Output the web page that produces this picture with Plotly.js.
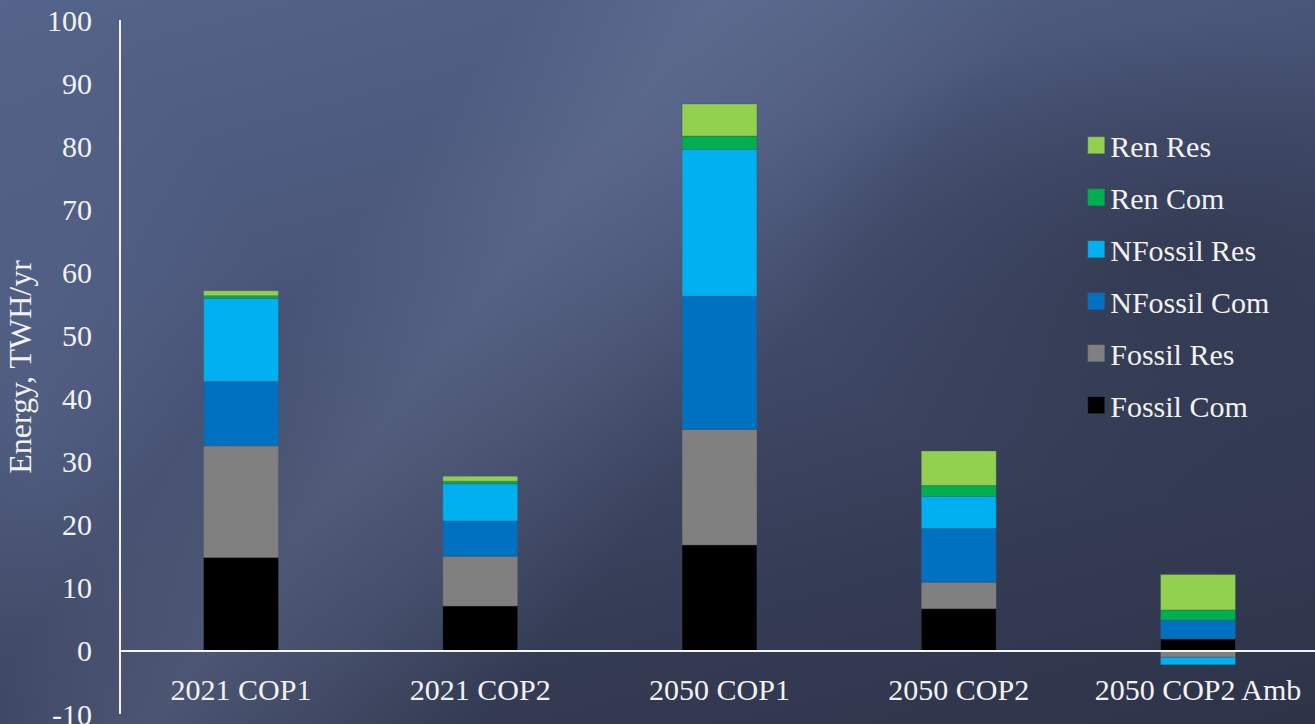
<!DOCTYPE html>
<html>
<head>
<meta charset="utf-8">
<script src="https://cdn.plot.ly/plotly-3.0.1.min.js"></script>
<style>
  html, body { margin: 0; padding: 0; width: 1315px; height: 724px; overflow: hidden; }
  body {
    background:
      linear-gradient(128deg, rgba(120,135,170,0) 28%, rgba(125,140,175,0.28) 38%, rgba(125,140,175,0.18) 46%, rgba(120,135,170,0) 56%),
      radial-gradient(ellipse 330px 520px at 40px 430px, rgba(100,115,155,0.35), rgba(100,115,155,0) 75%),
      radial-gradient(ellipse 520px 320px at 1180px 260px, rgba(38,43,62,0.45), rgba(38,43,62,0) 75%),
      linear-gradient(165deg, #55648a 0%, #4b587c 30%, #3e4764 55%, #343b54 75%, #2e3448 100%);
  }
  #chart { width: 1315px; height: 724px; }
</style>
</head>
<body>
<div id="chart"></div>
<script>
// Annual heating energy by scenario, TWh/yr
const categories = ['2021 COP1', '2021 COP2', '2050 COP1', '2050 COP2', '2050 COP2 Amb'];
const fossilCom  = [14.8, 7.1, 16.8, 6.7, 1.9];
const fossilRes  = [17.7, 7.9, 18.3, 4.2, -1.0];
const nfossilCom = [10.2, 5.6, 21.1, 8.5, 3.0];
const nfossilRes = [13.2, 5.9, 23.3, 5.1, -1.2];
const renCom     = [0.4, 0.4, 2.1, 1.7, 1.6];
const renRes     = [0.8, 0.8, 5.1, 5.5, 5.6];

const yTicks = [-10, 0, 10, 20, 30, 40, 50, 60, 70, 80, 90, 100];

const FONT = 'Liberation Serif, Times New Roman, serif';

// stacking order bottom to top; legend lists them top to bottom
const series = [
  { name: 'Fossil Com',  y: fossilCom,  color: '#000000', rank: 6 },
  { name: 'Fossil Res',  y: fossilRes,  color: '#808080', rank: 5 },
  { name: 'NFossil Com', y: nfossilCom, color: '#0070C0', rank: 4 },
  { name: 'NFossil Res', y: nfossilRes, color: '#00B0F0', rank: 3 },
  { name: 'Ren Com',     y: renCom,     color: '#00B050', rank: 2 },
  { name: 'Ren Res',     y: renRes,     color: '#92D050', rank: 1 }
];

const traces = series.map(s => ({
  type: 'bar',
  name: s.name,
  legendgroup: s.name,
  legendrank: s.rank,
  x: categories,
  y: s.y,
  marker: { color: s.color, line: { color: 'rgba(70,80,100,0.6)', width: 0.6 } },
  hoverinfo: 'x+y+name'
}));

const layout = {
  width: 1315,
  height: 724,
  paper_bgcolor: 'rgba(0,0,0,0)',
  plot_bgcolor: 'rgba(0,0,0,0)',
  margin: { l: 121, r: 0, t: 20, b: 10 },
  barmode: 'relative',
  bargap: 0.687,
  font: { family: FONT, color: '#f2f2f2', size: 30 },
  showlegend: true,
  legend: {
    x: 0.795, xanchor: 'left',
    y: 0.857, yanchor: 'top',
    traceorder: 'grouped',
    tracegroupgap: 10,
    bgcolor: 'rgba(0,0,0,0)',
    font: { family: FONT, size: 30, color: '#f2f2f2' }
  },
  xaxis: {
    type: 'category',
    range: [-0.5016, 4.489],
    anchor: 'free',
    position: 10 / 110,
    showline: true,
    linecolor: '#f4f4f4',
    linewidth: 2.5,
    ticks: '',
    showgrid: false,
    ticklabelstandoff: 12,
    tickfont: { family: FONT, size: 30, color: '#f2f2f2' }
  },
  yaxis: {
    range: [-10, 100],
    tickvals: yTicks,
    ticktext: yTicks.map(String),
    ticklabeloverflow: 'allow',
    showgrid: false,
    zeroline: false,
    showline: true,
    linecolor: '#f4f4f4',
    linewidth: 2,
    ticks: '',
    ticklabelstandoff: 21,
    tickfont: { family: FONT, size: 30, color: '#f2f2f2' },
    title: { text: 'Energy, TWH/yr', standoff: 6, font: { family: FONT, size: 32, color: '#f2f2f2' } }
  }
};

// enlarge the legend swatches to 17px squares
function enlargeSwatches() {
  document.querySelectorAll('#chart .legend .legendpoints path').forEach(p => {
    p.setAttribute('d', 'M14.5,8.5H-2.5V-8.5H14.5Z');
  });
}

Plotly.newPlot('chart', traces, layout, { displayModeBar: false, staticPlot: true })
  .then(enlargeSwatches);
</script>
</body>
</html>
